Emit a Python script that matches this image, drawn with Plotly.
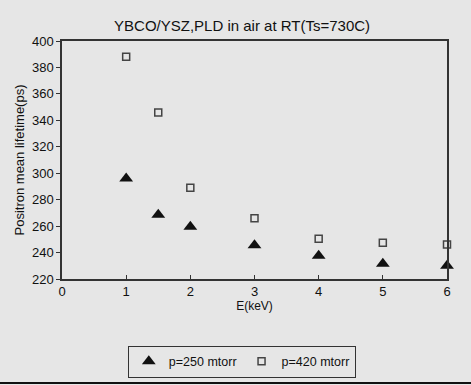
import plotly.graph_objects as go

energy_250 = [1, 1.5, 2, 3, 4, 5, 6]
lifetime_250 = [296, 268.5, 259.5, 245.5, 237.5, 231.5, 230]
energy_420 = [1, 1.5, 2, 3, 4, 5, 6]
lifetime_420 = [388, 346, 289, 266, 250.5, 247.5, 246]

x_ticks = [0, 1, 2, 3, 4, 5, 6]
y_ticks = [220, 240, 260, 280, 300, 320, 340, 360, 380, 400]

FONT = "Liberation Sans, Arial, sans-serif"
BG = "#e6e6e6"

fig = go.Figure()
fig.add_trace(go.Scatter(
    x=energy_250, y=lifetime_250, mode="markers", name="p=250 mtorr",
    marker=dict(symbol="triangle-up", size=12, color="#111111",
                line=dict(width=0)),
    cliponaxis=False,
))
fig.add_trace(go.Scatter(
    x=energy_420, y=lifetime_420, mode="markers", name="p=420 mtorr",
    marker=dict(symbol="square-open", size=7, color="#444444",
                line=dict(width=1.5, color="#444444")),
    cliponaxis=False,
))

fig.update_layout(
    width=471, height=385,
    margin=dict(l=62, r=24, t=41, b=106, autoexpand=False),
    paper_bgcolor=BG, plot_bgcolor=BG,
    font=dict(family=FONT, size=13, color="#111111"),
    title=dict(text="YBCO/YSZ,PLD in air at RT(Ts=730C)", x=0.514, xanchor="center",
               y=1 - 26 / 385, yanchor="middle", font=dict(size=15, family=FONT)),
    xaxis=dict(range=[0, 6], tickvals=x_ticks, ticks="inside", ticklen=4,
               tickcolor="#333", showline=True, linecolor="#333", linewidth=1.5,
               mirror=True, showgrid=False, zeroline=False, automargin=False,
               title=dict(text="E(keV)", standoff=2, font=dict(size=12)),
               tickfont=dict(size=13)),
    yaxis=dict(range=[220, 400], tickvals=y_ticks, ticks="outside", ticklen=4,
               tickcolor="#333", showline=True, linecolor="#333", linewidth=1.5,
               mirror=True, showgrid=False, zeroline=False, automargin=False,
               title=dict(text="Positron mean lifetime(ps)", standoff=4, font=dict(size=13)),
               tickfont=dict(size=13)),
    showlegend=True,
    legend=dict(orientation="h", x=0.467, xanchor="center", y=-0.28, yanchor="top",
                bordercolor="#333", borderwidth=1, bgcolor=BG,
                font=dict(size=12.5, family=FONT), itemwidth=30),
)

fig.add_shape(type="line", xref="paper", yref="paper",
              x0=-0.17, x1=1.07, y0=-0.437, y1=-0.437,
              line=dict(color="#111", width=2))

fig.write_html(
    "out.html",
    config={"displayModeBar": False},
    post_script="document.body.style.margin='0';document.body.style.background='#e6e6e6';",
)
